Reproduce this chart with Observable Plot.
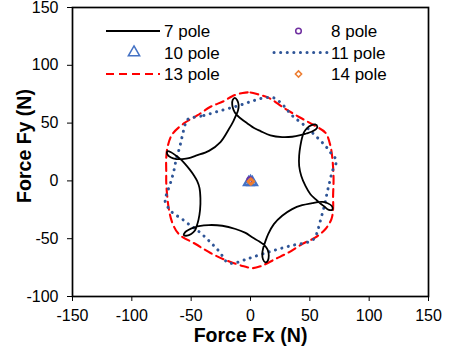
<!DOCTYPE html>
<html>
<head>
<meta charset="utf-8">
<script src="https://cdn.jsdelivr.net/npm/d3@7"></script>
<script src="https://cdn.jsdelivr.net/npm/@observablehq/plot@0.6"></script>
<style>
  html, body { margin: 0; padding: 0; background: #fff; }
  #chart { position: relative; width: 449px; height: 351px; }
  #legend { position: absolute; left: 0; top: 0; pointer-events: none; }
</style>
</head>
<body>
<div id="chart"></div>
<script>
// Axis ticks
const xTicks = [-150, -100, -50, 0, 50, 100, 150];
const yTicks = [-100, -50, 0, 50, 100, 150];

// Force loci [Fx, Fy] in newtons
const pole7 = [
  [-42.5, -25], [-42.2, -15], [-43, -6], [-45, 0], [-47.5, 4.5], [-51, 9.5], [-55, 14.5],
  [-59, 18.8], [-63, 22], [-67, 24.8], [-70, 25.6], [-70.2, 23.2], [-67, 20.2], [-62.5, 18.9],
  [-57.5, 18.9], [-52, 19.6], [-46, 21.8], [-35, 26], [-25.3, 33.6], [-18.3, 44.6],
  [-14.5, 51.5], [-12.3, 56.5], [-10.5, 61], [-10, 65.5], [-11.2, 69.8], [-13.2, 71.8],
  [-15, 70], [-15.4, 66], [-14.3, 61.5], [-12, 57.5], [-8.5, 54.2], [-3, 50], [4.2, 45.1],
  [8.4, 43.1], [16.8, 39.4], [26.7, 37.9], [35.1, 38.2], [42, 39.5], [47, 41], [51.5, 42.5],
  [55, 44.5], [56.3, 47], [54.5, 48.8], [51, 48], [47.5, 45.5], [45, 42], [43.5, 37.5],
  [42, 30], [41, 22], [41, 12.9], [42.8, 4.3], [46.3, -4.3], [50.5, -11.5], [54.5, -15.5],
  [58, -18.8], [62, -22], [66, -25], [69, -24.8], [68.6, -21.8], [65, -19.3], [61, -18.2],
  [57, -18.3], [52, -19.2], [43.5, -21], [35.1, -24.4], [26.7, -30.2], [19.7, -37.4],
  [14.9, -46], [12.3, -53], [10.6, -58.5], [9.9, -63.5], [10.5, -67.8], [12.5, -70.5],
  [14.6, -69], [15.4, -64.5], [14.4, -59.5], [11.8, -55.8], [7.5, -52.5], [1.4, -48.8],
  [-4.2, -45], [-12.6, -41.6], [-23.8, -38.8], [-35.1, -38.2], [-43.5, -39.2], [-48, -40.5],
  [-52, -42.3], [-55.2, -44.5], [-56.2, -46.8], [-53.5, -47.4], [-50, -46], [-47, -43.2],
  [-45.5, -39.5], [-43.8, -33.5]
];
const pole8 = [[-0.6, 0.9]];
const pole10 = [[-1.5, -1.3], [1.5, -1.3], [0, -0.4]];
const pole11 = [
  [-53, 53.2], [-39.3, 56.6], [-23.8, 61.2], [-9.8, 65.2], [1.4, 69], [11.2, 71.8],
  [19.7, 71.8], [27.5, 65.5], [35.1, 56.5], [44.9, 48.5], [54.8, 39], [63.2, 30.2],
  [68.5, 23], [72.5, 17.5], [69, 8.6], [66.6, -1.4], [64.6, -10.1], [62.6, -20.1],
  [60.4, -28.7], [58.1, -37.4], [56.2, -44.5], [53.3, -50.3], [47.8, -53.2], [36.5, -55.5],
  [23.8, -58.9], [12.6, -62.4], [1.4, -66.1], [-2.8, -67.5], [-8.4, -69.5], [-14.1, -71.3],
  [-19.7, -70.4], [-23.8, -64.7], [-28.1, -59], [-32.3, -54.6], [-36.5, -50.3], [-42.1, -45],
  [-47.8, -40.5], [-53.3, -36.5], [-59, -32], [-64.6, -28.5], [-68.8, -24], [-72, -17],
  [-70.2, -10], [-67.5, -2], [-64.6, 8.6], [-62.6, 18.7], [-59.8, 28.7], [-57.5, 38.8],
  [-55.3, 48]
];
const pole13 = [
  [-6.5, 76.1], [0, 76.5], [7, 74.7], [15.4, 71.8], [28.1, 63.2], [42.1, 54.6],
  [54.8, 47.4], [63.2, 41.6], [67.4, 30.2], [69.3, 15.8], [70, 1.4], [69.6, -12.9],
  [69.6, -24.4], [68.2, -33], [63.2, -41.6], [54.8, -48.9], [43.5, -54.6], [32.3, -61.8],
  [21.1, -67.5], [8.4, -73.9], [2, -75.5], [-5.6, -73.9], [-19.7, -69], [-33.7, -62.4],
  [-46.3, -54.6], [-60.4, -46], [-66, -35.9], [-68.8, -24.4], [-70.2, -12.9], [-71, -1.4],
  [-71, 7.2], [-71, 20.1], [-69.7, 30.2], [-66, 40.2], [-56.2, 49.7], [-44.9, 56.6],
  [-33.7, 64.1], [-22.5, 69], [-15.4, 73.3]
];
const pole14 = [[0.3, -0.1], [0.9, -0.6], [0.3, -1.1], [-0.3, -0.6]];

// Series styling
const colors = {
  p7: "#000000", p8: "#7030A0", p10: "#4472C4",
  p11: "#2F5597", p13: "#FF0000", p14: "#ED7D31"
};
const legendLabels = ["7 pole", "8 pole", "10 pole", "11 pole", "13 pole", "14 pole"];

const fx = d => d[0], fy = d => d[1];
const font = "Liberation Sans, Arial, Helvetica, sans-serif";
const dotDash = "0.1,6.5";

const plot = Plot.plot({
  width: 449,
  height: 351,
  marginLeft: 72,
  marginRight: 21,
  marginTop: 7,
  marginBottom: 55,
  style: { fontFamily: font, fontSize: "16px", color: "#000", background: "#fff" },
  x: { domain: [-150, 150] },
  y: { domain: [-100, 150] },
  marks: [
    Plot.line(pole13, { x: fx, y: fy, curve: "catmull-rom-closed", stroke: colors.p13, strokeWidth: 2.1, strokeDasharray: "8,5" }),
    Plot.line(pole11, { x: fx, y: fy, curve: "catmull-rom-closed", stroke: colors.p11, strokeWidth: 3, strokeDasharray: dotDash, strokeLinecap: "round" }),
    Plot.line(pole7, { x: fx, y: fy, curve: "catmull-rom-closed", stroke: colors.p7, strokeWidth: 1.8 }),
    Plot.dot(pole10, { x: fx, y: fy, symbol: "triangle", r: 4, stroke: colors.p10, strokeWidth: 1.5, fill: "none" }),
    Plot.dot(pole8, { x: fx, y: fy, symbol: "circle", r: 2.8, stroke: colors.p8, strokeWidth: 1.4, fill: "none" }),
    Plot.dot(pole14, { x: fx, y: fy, symbol: "diamond2", r: 2.6, stroke: colors.p14, strokeWidth: 1.5, fill: "none" }),
    Plot.frame({ stroke: "#000", strokeWidth: 1.7 }),
    Plot.axisX({ ticks: xTicks, tickSize: 5, tickPadding: 8, tickFormat: d => String(d), label: null, fontSize: 16, stroke: "#000" }),
    Plot.axisY({ ticks: yTicks, tickSize: 5, tickPadding: 9, tickFormat: d => String(d), label: null, fontSize: 16, stroke: "#000" }),
    Plot.text(["Force Fx (N)"], { frameAnchor: "bottom", textAnchor: "middle", lineAnchor: "top", dy: 32, fontSize: 19.5, fontWeight: "bold", fill: "#000" }),
    Plot.text(["Force Fy (N)"], { frameAnchor: "left", textAnchor: "middle", rotate: -90, lineAnchor: "top", dx: -55, dy: -6, fontSize: 19.5, fontWeight: "bold", fill: "#000" })
  ]
});

const chart = document.getElementById("chart");
chart.appendChild(plot);

// Legend drawn over the upper part of the plot frame
const legend = d3.select(chart).append("svg")
  .attr("id", "legend")
  .attr("width", 449)
  .attr("height", 100)
  .style("font-family", font)
  .style("font-size", "17px");

const rowsY = [31, 52.5, 74];
const col = [{ sx0: 106, sx1: 160, mx: 134, tx: 164 }, { sx0: 274, sx1: 327, mx: 298.5, tx: 331 }];
const items = [
  { label: legendLabels[0], c: 0, r: 0, kind: "line", color: colors.p7, width: 1.8, dash: null },
  { label: legendLabels[1], c: 1, r: 0, kind: "circle", color: colors.p8 },
  { label: legendLabels[2], c: 0, r: 1, kind: "triangle", color: colors.p10 },
  { label: legendLabels[3], c: 1, r: 1, kind: "line", color: colors.p11, width: 3, dash: dotDash, cap: "round" },
  { label: legendLabels[4], c: 0, r: 2, kind: "line", color: colors.p13, width: 2.1, dash: "8,5" },
  { label: legendLabels[5], c: 1, r: 2, kind: "diamond", color: colors.p14 }
];

for (const it of items) {
  const cx = col[it.c], y = rowsY[it.r];
  if (it.kind === "line") {
    legend.append("line")
      .attr("x1", cx.sx0).attr("x2", cx.sx1).attr("y1", y).attr("y2", y)
      .attr("stroke", it.color).attr("stroke-width", it.width)
      .attr("stroke-linecap", it.cap || "butt")
      .attr("stroke-dasharray", it.dash);
  } else {
    const sym = it.kind === "circle" ? d3.symbolCircle : it.kind === "triangle" ? d3.symbolTriangle : d3.symbolDiamond2;
    const size = it.kind === "triangle" ? Math.PI * 4.2 * 4.2 : Math.PI * 2.8 * 2.8;
    legend.append("path")
      .attr("transform", `translate(${cx.mx},${y})`)
      .attr("d", d3.symbol(sym, size)())
      .attr("fill", "none").attr("stroke", it.color).attr("stroke-width", 1.5);
  }
  legend.append("text")
    .attr("x", cx.tx).attr("y", y + 6)
    .attr("fill", "#000")
    .text(it.label);
}
</script>
</body>
</html>
